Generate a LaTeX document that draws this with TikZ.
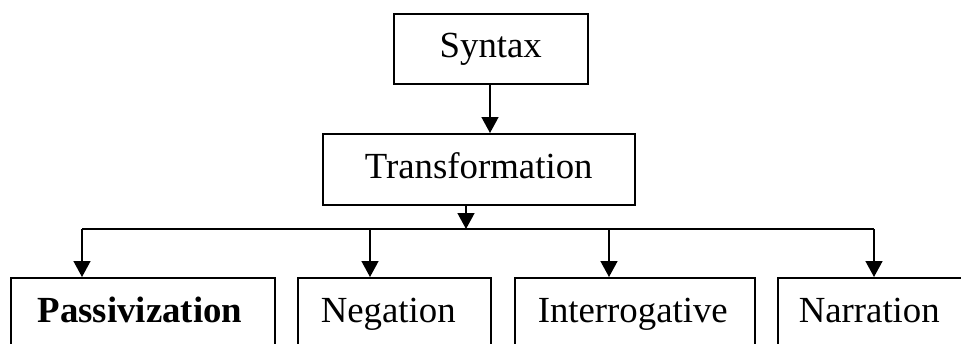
\documentclass[tikz,border=0pt]{standalone}
\usepackage{fontspec}
\setmainfont{Liberation Serif}
\usetikzlibrary{arrows.meta}
\begin{document}
\begin{tikzpicture}[x=1pt,y=-1pt,
  box/.style={draw=black, line width=1.5pt, inner sep=0pt, anchor=north west,
    font=\fontsize{36.8}{40}\selectfont, text height=26pt, text depth=8pt},
  cbox/.style={box, align=center},
  lbox/.style={box, align=left},
  conn/.style={line width=1.5pt},
  arr/.style={conn, -{Triangle[width=17pt,length=16pt]}}]
\useasboundingbox (0,0) rectangle (961,343);
\clip (0,0) rectangle (961,343);
\fill[white] (0,0) rectangle (961,343);
\node[cbox, minimum width=194pt, minimum height=70pt] (syn) at (393,13) {Syntax};
\node[cbox, minimum width=312pt, minimum height=71pt] (tra) at (322,133) {Transformation};
\node[lbox, minimum height=72pt, text width=210pt, inner xsep=27pt] (pas) at (10,277) {\bfseries Passivization};
\node[lbox, minimum height=72pt, text width=147pt, inner xsep=23pt] (neg) at (297,277) {Negation};
\node[lbox, minimum height=72pt, text width=194pt, inner xsep=23pt] (int) at (514,277) {Interrogative};
\node[lbox, minimum height=72pt, text width=200pt, inner xsep=21pt] (nar) at (777,277) {Narration};
\coordinate (bus) at (466,229);
\coordinate (busL) at (82,229);
\coordinate (busN) at (370,229);
\coordinate (busI) at (609,229);
\coordinate (busR) at (874,229);
\coordinate (sa) at (490,83);
\draw[arr] (sa) -- (sa |- tra.north);
\draw[arr] (tra.south -| bus) -- (bus);
\draw[conn] (busL) -- (busR);
\draw[arr] (busL) -- (busL |- pas.north);
\draw[arr] (busN) -- (busN |- neg.north);
\draw[arr] (busI) -- (busI |- int.north);
\draw[arr] (busR) -- (busR |- nar.north);
\end{tikzpicture}
\end{document}
